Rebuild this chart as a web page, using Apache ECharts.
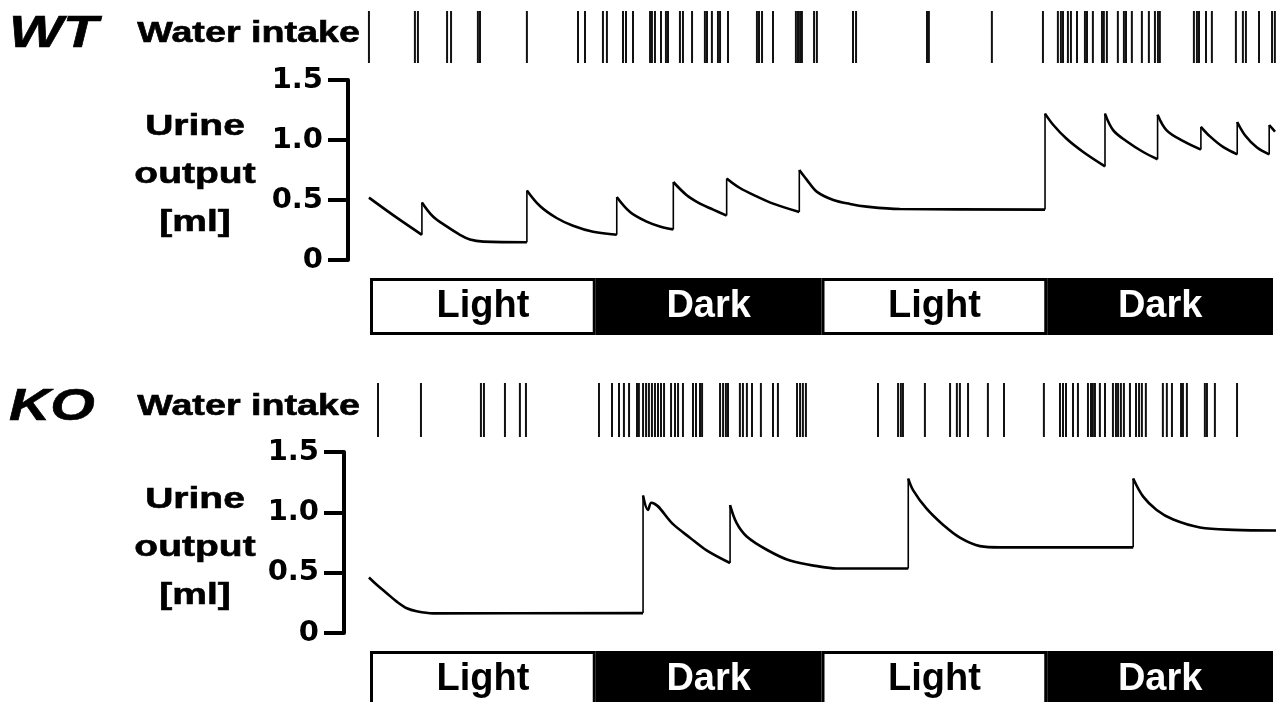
<!DOCTYPE html>
<html>
<head>
<meta charset="utf-8">
<title>Water intake / Urine output</title>
<script src="https://cdn.jsdelivr.net/npm/echarts@6.0.0/dist/echarts.min.js"></script>
<style>
html,body{margin:0;padding:0;background:#fff;}
#chart{width:1280px;height:702px;}
</style>
</head>
<body>
<div id="chart"></div>
<script>
/*时间 (h) 与 明暗周期*/
var hours = 48;
var phaseNames = ['Light', 'Dark', 'Light', 'Dark'];
var phaseLength = [12, 12, 12, 12];
var yTicks = [0, 0.5, 1.0, 1.5];

/*饮水记录 (h)*/
var wtLicks = [0.05, 2.48, 2.64, 4.18, 4.39, 5.81, 5.92, 8.40, 11.10, 11.47, 12.42, 12.63, 13.48, 13.64, 14.01,
    14.91, 15.01, 15.17, 15.49, 15.75, 15.86, 16.49, 16.65, 17.13, 17.81, 17.92, 18.18, 18.50, 18.61, 19.03,
    20.56, 20.67, 20.83, 21.41, 22.62, 22.73, 22.84, 22.94, 23.58, 23.73, 25.64, 25.80, 29.55, 29.65, 32.98,
    35.68, 36.47, 36.63, 36.74, 37.00, 37.16, 37.48, 37.90, 38.01, 38.32, 38.80, 38.90, 39.06, 39.64, 39.96,
    40.07, 40.38, 40.91, 41.28, 41.60, 41.76, 41.86, 43.66, 43.82, 43.93, 44.30, 44.61, 45.88, 46.25, 46.41,
    47.10, 47.79, 47.94];
var koLicks = [0.53, 2.80, 5.97, 6.13, 7.24, 8.03, 8.35, 12.21, 12.90, 13.27, 13.53, 13.80, 14.22, 14.32,
    14.54, 14.70, 14.85, 15.01, 15.17, 15.33, 15.49, 15.65, 16.02, 16.23, 16.39, 16.65, 17.18, 17.34, 17.55,
    17.66, 18.61, 18.77, 18.92, 19.03, 19.66, 19.82, 20.03, 20.30, 20.77, 21.41, 21.67, 22.68, 22.84, 22.99,
    23.15, 26.96, 28.02, 28.17, 28.28, 29.44, 30.77, 31.13, 31.29, 31.72, 32.77, 33.62, 35.73, 36.58, 36.74,
    36.90, 37.27, 37.53, 38.06, 38.22, 38.32, 38.43, 38.69, 38.96, 39.38, 39.54, 39.65, 39.80, 39.96, 40.28,
    40.60, 40.76, 40.91, 41.12, 42.02, 42.23, 42.50, 42.98, 43.08, 43.29, 44.24, 44.35, 44.77, 45.94];

/*累计尿量 [h, ml]，同一时刻两点 = 排尿跳升*/
var wtUrine = [[0.05, 0.52], [1.50, 0.355], [2.85, 0.21],
    [2.85, 0.48], [3.45, 0.36], [4.16, 0.28], [4.86, 0.21], [5.39, 0.17], [6.10, 0.153], [8.40, 0.148],
    [8.40, 0.58], [9.09, 0.45], [9.97, 0.35], [10.84, 0.285], [11.90, 0.235], [13.15, 0.21],
    [13.15, 0.525], [13.85, 0.40], [14.73, 0.32], [15.43, 0.28], [16.14, 0.255],
    [16.14, 0.65], [16.85, 0.54], [17.55, 0.47], [18.25, 0.42], [18.96, 0.37],
    [18.96, 0.68], [19.66, 0.60], [20.55, 0.53], [21.42, 0.47], [22.80, 0.40],
    [22.80, 0.75], [23.19, 0.67], [23.72, 0.57], [24.60, 0.50], [25.48, 0.467], [26.36, 0.445], [28.12, 0.425], [35.79, 0.42],
    [35.79, 1.22], [36.23, 1.125], [36.93, 1.01], [37.81, 0.90], [38.96, 0.78],
    [38.96, 1.22], [39.40, 1.08], [40.10, 0.99], [40.98, 0.90], [41.74, 0.84],
    [41.74, 1.21], [42.22, 1.08], [43.10, 0.99], [44.03, 0.92],
    [44.03, 1.11], [44.51, 1.03], [45.22, 0.94], [45.95, 0.88],
    [45.95, 1.15], [46.36, 1.04], [46.98, 0.94], [47.64, 0.88],
    [47.64, 1.125], [47.95, 1.07]];
var koUrine = [[0.05, 0.46], [0.46, 0.40], [0.99, 0.33], [1.52, 0.26], [2.05, 0.205], [2.57, 0.18], [3.45, 0.163], [14.54, 0.165],
    [14.54, 1.14], [14.80, 1.02], [14.98, 1.08], [16.14, 0.90], [17.02, 0.79], [17.90, 0.685], [19.14, 0.58],
    [19.14, 1.06], [19.49, 0.91], [20.02, 0.80], [21.08, 0.69], [22.31, 0.60], [23.89, 0.55], [24.77, 0.535], [28.56, 0.535],
    [28.56, 1.28], [28.83, 1.18], [29.53, 1.03], [30.41, 0.895], [31.29, 0.79], [32.35, 0.72], [33.41, 0.71], [40.45, 0.71],
    [40.45, 1.28], [40.98, 1.13], [41.69, 1.02], [42.57, 0.94], [43.98, 0.875], [45.74, 0.855], [48.0, 0.85]];

var FONT = '"Liberation Sans", Arial, sans-serif';
var STRETCH = 1.3;

/*版面位置*/
var panels = [
    {name: 'WT', licks: wtLicks, urine: wtUrine, lickTop: 11, lickH: 52, top: 80, height: 180, axisX: 348, barTop: 278, textY: 0},
    {name: 'KO', licks: koLicks, urine: koUrine, lickTop: 383, lickH: 54, top: 452, height: 181, axisX: 344, barTop: 651, textY: 373}
];
var plotLeft = 368, plotWidth = 908;

function hiddenValueAxis(gi, min, max) {
    return {type: 'value', gridIndex: gi, min: min, max: max, show: false};
}

/*曲线按跳升拆分：衰减段(平滑) + 跳升段(竖直)*/
function splitCurve(data) {
    var decays = [], jumps = [], cur = [data[0]];
    for (var i = 1; i < data.length; i++) {
        if (data[i][0] === data[i - 1][0]) {
            decays.push(cur);
            jumps.push([data[i - 1], data[i]]);
            cur = [data[i]];
        } else {
            cur.push(data[i]);
        }
    }
    decays.push(cur);
    return {decays: decays, jumps: jumps};
}

/*文字（横向拉伸）*/
function txt(text, x, y, size, align, italic) {
    return {
        type: 'text', x: x, y: y, scaleX: STRETCH,
        style: {
            text: text, fill: '#000', stroke: '#000', lineWidth: 0.6,
            textAlign: align, textVerticalAlign: 'middle', lineHeight: 48,
            font: (italic ? 'italic ' : '') + 'bold ' + size + 'px ' + FONT
        }
    };
}

var grids = [], xAxes = [], yAxes = [], series = [], graphics = [];

panels.forEach(function (p, k) {
    var g0 = k * 3;
    /*饮水条*/
    grids.push({left: plotLeft, width: plotWidth, top: p.lickTop, height: p.lickH, outerBoundsMode: 'none'});
    xAxes.push(hiddenValueAxis(g0, 0, hours));
    yAxes.push(hiddenValueAxis(g0, 0, 1));
    series.push({
        type: 'bar', xAxisIndex: g0, yAxisIndex: g0, barWidth: 2, animation: false,
        itemStyle: {color: '#111'},
        data: p.licks.map(function (t) { return [t, 1]; })
    });

    /*尿量曲线*/
    grids.push({left: plotLeft, width: plotWidth, top: p.top, height: p.height, outerBoundsMode: 'none'});
    xAxes.push(hiddenValueAxis(g0 + 1, 0, hours));
    yAxes.push({
        type: 'value', gridIndex: g0 + 1, min: yTicks[0], max: yTicks[yTicks.length - 1], interval: 0.5,
        offset: plotLeft - p.axisX,
        axisLine: {show: true, onZero: false, lineStyle: {color: '#000', width: 4}},
        axisTick: {show: true, length: 20, lineStyle: {color: '#000', width: 4}},
        splitLine: {show: false},
        axisLabel: {
            margin: 25, color: '#000', fontSize: 29, fontWeight: 'bold', fontFamily: '"DejaVu Sans", sans-serif',
            formatter: function (v) { return v === 0 ? '0' : v.toFixed(1); }
        }
    });
    var parts = splitCurve(p.urine);
    parts.decays.forEach(function (seg) {
        series.push({
            type: 'line', xAxisIndex: g0 + 1, yAxisIndex: g0 + 1, showSymbol: false, symbol: 'none',
            smooth: 0.35, animation: false,
            lineStyle: {color: '#000', width: 2.6}, data: seg
        });
    });
    parts.jumps.forEach(function (seg) {
        series.push({
            type: 'line', xAxisIndex: g0 + 1, yAxisIndex: g0 + 1, showSymbol: false, symbol: 'none',
            animation: false, lineStyle: {color: '#000', width: 1.6}, data: seg
        });
    });

    /*明暗周期条*/
    grids.push({left: 370, width: 903, top: p.barTop, height: 57, outerBoundsMode: 'none'});
    xAxes.push(hiddenValueAxis(g0 + 2, 0, hours));
    yAxes.push({type: 'category', gridIndex: g0 + 2, data: ['cycle'], show: false});
    phaseNames.forEach(function (ph, i) {
        var dark = ph === 'Dark';
        series.push({
            type: 'bar', xAxisIndex: g0 + 2, yAxisIndex: g0 + 2, stack: 'ld' + k, barWidth: '100%',
            animation: false, data: [phaseLength[i]],
            itemStyle: {color: dark ? '#000' : '#fff', borderColor: '#000', borderWidth: 3},
            label: {
                show: true, position: 'inside', formatter: ph, color: dark ? '#fff' : '#000',
                fontSize: 38, fontWeight: 'bold', fontFamily: FONT, textBorderWidth: 0
            }
        });
    });

    graphics.push(txt(p.name, 9, 35 + p.textY, 44, 'left', true));
    graphics.push(txt('Water intake', 360, 34 + p.textY, 29, 'right', false));
    graphics.push(txt('Urine\noutput\n[ml]', 195, 175 + p.textY, 30, 'center', false));
});

var myChart = echarts.init(document.getElementById('chart'));
myChart.setOption({
    backgroundColor: '#fff',
    animation: false,
    grid: grids,
    xAxis: xAxes,
    yAxis: yAxes,
    series: series,
    graphic: graphics
});
</script>
</body>
</html>
